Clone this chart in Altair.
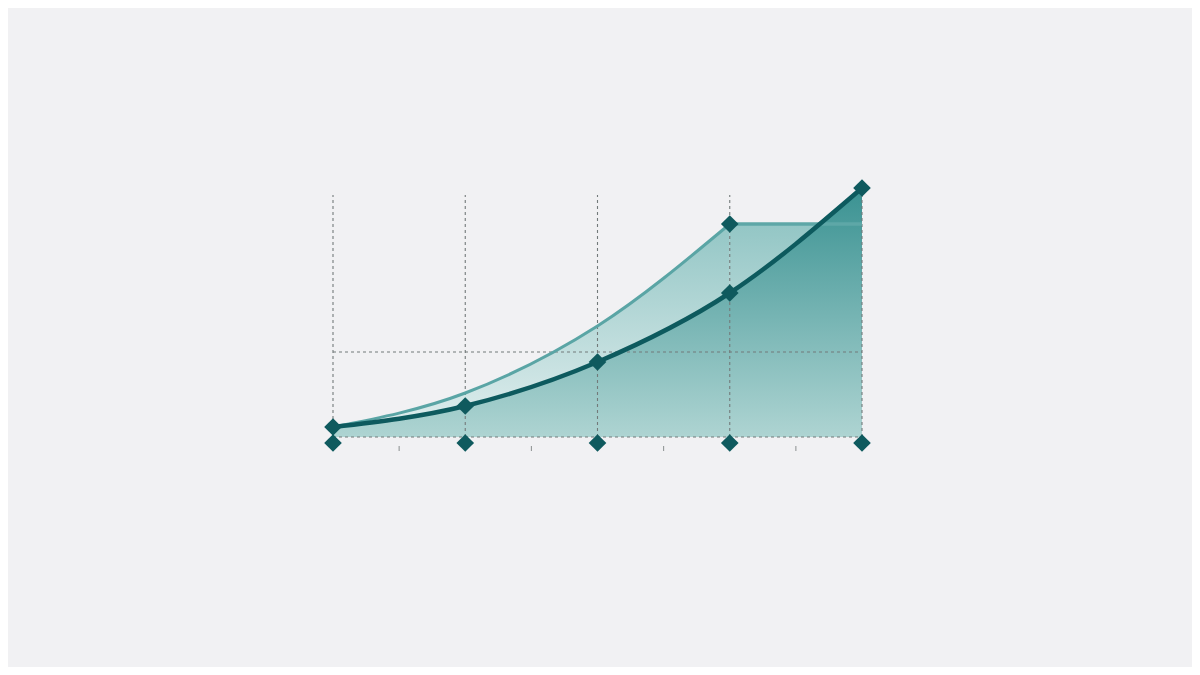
import altair as alt
import pandas as pd

# ---- data ----
x_vals = [0, 1, 2, 3, 4]
dark_vals = [10, 31, 75, 144, 249]
light_vals = [10, 44, 111, 213, 213]
grid_x = [0, 1, 2, 3, 4]
grid_top = 242
grid_h = [0, 85]
minor_x = [0.5, 1.5, 2.5, 3.5]
base_marker = -6

dark_df = pd.DataFrame({"x": x_vals, "y": dark_vals})
light_curve = pd.DataFrame({"x": x_vals[:4], "y": light_vals[:4]})
light_flat = pd.DataFrame({"x": x_vals[3:], "y": light_vals[3:]})
light_pts = pd.DataFrame({"x": [x_vals[3]], "y": [light_vals[3]]})
base_df = pd.DataFrame({"x": x_vals, "y": [base_marker] * len(x_vals)})
vgrid = pd.DataFrame({"x": grid_x, "y": [0] * len(grid_x), "y2": [grid_top] * len(grid_x)})
hgrid = pd.DataFrame({"x": [0] * len(grid_h), "x2": [4] * len(grid_h), "y": grid_h})
minor_df = pd.DataFrame({"x": minor_x, "y": [-9] * len(minor_x), "y2": [-14] * len(minor_x)})

xs = alt.Scale(domain=[0, 4], nice=False, zero=False)
ys = alt.Scale(domain=[-16, 250], nice=False, zero=False)
X = alt.X("x:Q", scale=xs, axis=None)
Y = alt.Y("y:Q", scale=ys, axis=None)

light_grad = alt.Gradient(
    gradient="linear", x1=0, x2=0, y1=0, y2=1,
    stops=[alt.GradientStop(color="#93c6c5", offset=0),
           alt.GradientStop(color="#e2efef", offset=1)],
)
dark_grad = alt.Gradient(
    gradient="linear", x1=0, x2=0, y1=0, y2=1,
    stops=[alt.GradientStop(color="#3a9292", offset=0),
           alt.GradientStop(color="#aed4d2", offset=1)],
)

light_area1 = alt.Chart(light_curve).mark_area(interpolate="monotone", color=light_grad).encode(
    x=X, y=Y, y2=alt.datum(0))
light_area2 = alt.Chart(light_flat).mark_area(color=light_grad).encode(
    x=X, y=Y, y2=alt.datum(0))
dark_area = alt.Chart(dark_df).mark_area(interpolate="monotone", color=dark_grad).encode(
    x=X, y=Y, y2=alt.datum(0))

vlines = alt.Chart(vgrid).mark_rule(color="#737a7a", strokeWidth=1.1, strokeDash=[3, 3]).encode(
    x=X, y=Y, y2="y2:Q")
hlines = alt.Chart(hgrid).mark_rule(color="#737a7a", strokeWidth=1.1, strokeDash=[3, 3]).encode(
    x=X, x2="x2:Q", y=Y)
minor = alt.Chart(minor_df).mark_rule(color="#8a8f8f", strokeWidth=1).encode(
    x=X, y=Y, y2="y2:Q")

light_line1 = alt.Chart(light_curve).mark_line(interpolate="monotone", color="#5aa5a5", strokeWidth=3).encode(x=X, y=Y)
light_line2 = alt.Chart(light_flat).mark_line(color="#5ea7a7", strokeWidth=3.5).encode(x=X, y=Y)
dark_line = alt.Chart(dark_df).mark_line(interpolate="monotone", color="#0d5a5e", strokeWidth=4.5).encode(x=X, y=Y)

pts_style = dict(shape="diamond", size=310, color="#0f5a5e", filled=True, opacity=1)
dark_pts = alt.Chart(dark_df).mark_point(**pts_style).encode(x=X, y=Y)
light_mark = alt.Chart(light_pts).mark_point(**pts_style).encode(x=X, y=Y)
base_pts = alt.Chart(base_df).mark_point(**pts_style).encode(x=X, y=Y)

chart = alt.layer(
    light_area1, light_area2, dark_area,
    vlines, hlines, minor,
    light_line1, light_line2, dark_line,
    dark_pts, light_mark, base_pts,
).properties(
    width=529, height=266,
    autosize=alt.AutoSizeParams(type="none"),
    padding={"left": 325, "top": 179, "right": 330, "bottom": 214},
    background="#f1f1f3",
).configure_view(stroke=None)

chart.save("out.html", embed_options={"renderer": "svg", "actions": False})
